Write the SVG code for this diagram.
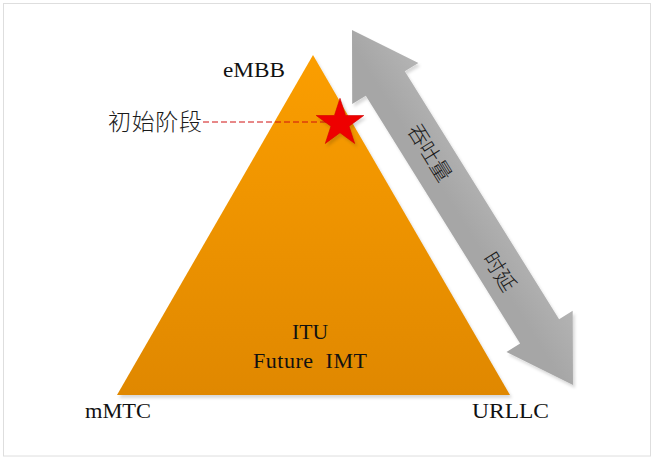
<svg xmlns="http://www.w3.org/2000/svg" width="656" height="458" viewBox="0 0 656 458">
  <defs>
    <linearGradient id="triGrad" x1="0" y1="0" x2="0" y2="1">
      <stop offset="0" stop-color="#fb9e00"/>
      <stop offset="1" stop-color="#e08800"/>
    </linearGradient>
    <linearGradient id="arrowGrad" gradientUnits="userSpaceOnUse" x1="380" y1="90" x2="420" y2="65">
      <stop offset="0" stop-color="#a6a6a6"/>
      <stop offset="1" stop-color="#b4b4b4"/>
    </linearGradient>
    <filter id="shadow" x="-20%" y="-20%" width="140%" height="140%">
      <feDropShadow dx="2" dy="3" stdDeviation="1.5" flood-color="#000" flood-opacity="0.15"/>
    </filter>
  </defs>
  <style>
    .lat { font-family: "Liberation Serif", "Times New Roman", serif; fill: #111; }
    .cjk { font-family: "Noto Sans CJK SC", "Noto Sans CJK JP", sans-serif; font-weight: 300; fill: #1a1a1a; }
  </style>

  <rect x="3.5" y="3.5" width="647" height="452.5" fill="#ffffff" stroke="#dedede" stroke-width="1"/>

  <g id="triangle">
    <polygon points="313,55 117,395 510,395" fill="url(#triGrad)" filter="url(#shadow)"/>
    <text class="lat" x="310" y="339" font-size="22" text-anchor="middle" textLength="36" lengthAdjust="spacingAndGlyphs">ITU</text>
    <text class="lat" x="310" y="368" font-size="22" text-anchor="middle" textLength="114" xml:space="preserve">Future  IMT</text>
  </g>

  <g id="eMBB">
    <text class="lat" x="223" y="77" font-size="21" textLength="62" lengthAdjust="spacingAndGlyphs">eMBB</text>
  </g>
  <g id="mMTC">
    <text class="lat" x="85" y="418" font-size="21" textLength="66" lengthAdjust="spacingAndGlyphs">mMTC</text>
  </g>
  <g id="URLLC">
    <text class="lat" x="472" y="418" font-size="22" textLength="77" lengthAdjust="spacingAndGlyphs">URLLC</text>
  </g>

  <g id="initial-stage">
    <text class="cjk" x="108" y="130" font-size="23" textLength="94">初始阶段</text>
  </g>

  <g id="connectors">
    <line x1="203" y1="122" x2="330" y2="122" stroke="#d01010" stroke-width="1" stroke-dasharray="6,3"/>
  </g>

  <g id="star">
    <polygon points="340,98.3 345.6,115.5 363.8,115.5 349.1,126.2 354.7,143.5 340,132.8 325.3,143.5 330.9,126.2 316.2,115.5 334.4,115.5" fill="#ee0000" stroke="#d00000" stroke-width="0.6" filter="url(#shadow)"/>
  </g>

  <g id="arrow">
    <polygon points="352,30 418.4,62.9 404.8,71.3 559.1,319.2 572.7,310.8 573,385 506.5,352 520.1,343.6 365.8,95.7 352.2,104.1" fill="url(#arrowGrad)" filter="url(#shadow)"/>
    <text class="cjk" font-size="21" text-anchor="middle" dominant-baseline="central" transform="translate(431,152) rotate(58.1)">吞吐量</text>
    <text class="cjk" font-size="21" text-anchor="middle" dominant-baseline="central" transform="translate(501,271) rotate(58.1)">时延</text>
  </g>
</svg>
